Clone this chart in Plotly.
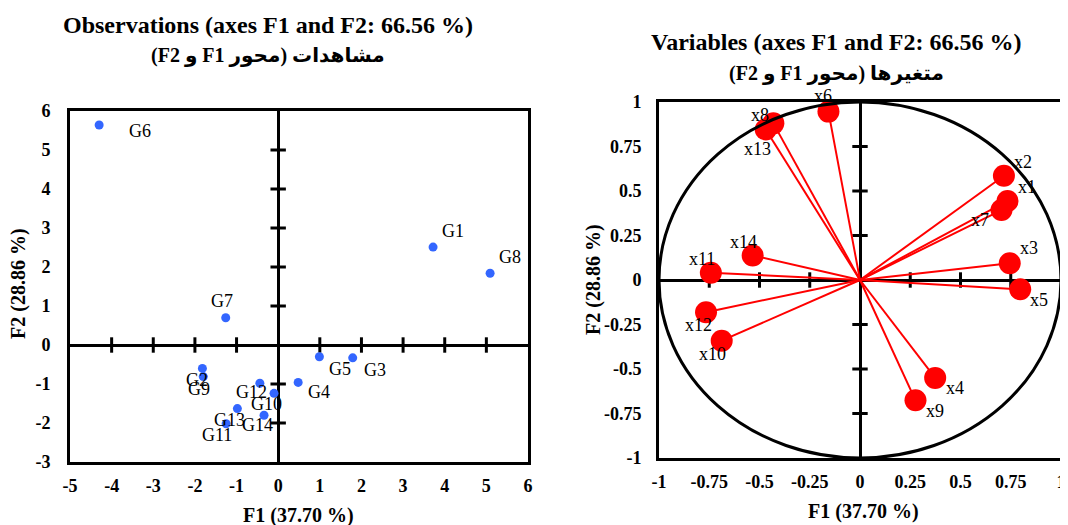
import plotly.graph_objects as go

# ---------------- data ----------------
obs_labels = ["G1", "G2", "G3", "G4", "G5", "G6", "G7", "G8", "G9", "G10", "G11", "G12", "G13", "G14"]
obs_f1 = [3.72, -1.82, 1.79, 0.48, 0.99, -4.30, -1.26, 5.09, -1.80, -0.10, -1.25, -0.44, -0.98, -0.34]
obs_f2 = [2.51, -0.60, -0.33, -0.96, -0.30, 5.64, 0.70, 1.84, -0.81, -1.24, -2.02, -0.98, -1.63, -1.80]

var_labels = ["x1", "x2", "x3", "x4", "x5", "x6", "x7", "x8", "x9", "x10", "x11", "x12", "x13", "x14"]
var_f1 = [0.734, 0.716, 0.745, 0.374, 0.797, -0.157, 0.704, -0.431, 0.276, -0.688, -0.742, -0.766, -0.469, -0.534]
var_f2 = [0.444, 0.586, 0.094, -0.550, -0.052, 0.946, 0.393, 0.880, -0.676, -0.341, 0.041, -0.181, 0.846, 0.138]

obs_xticks = [-5, -4, -3, -2, -1, 0, 1, 2, 3, 4, 5, 6]
obs_yticks = [-3, -2, -1, 0, 1, 2, 3, 4, 5, 6]
var_ticks = [-1, -0.75, -0.5, -0.25, 0, 0.25, 0.5, 0.75, 1]
var_ticktext = ["-1", "-0.75", "-0.5", "-0.25", "0", "0.25", "0.5", "0.75", "1"]

title_obs = "Observations (axes F1 and F2: 66.56 %)"
title_obs_fa = "\u202Bمشاهدات (محور F1 و F2)\u202C"
title_var = "Variables (axes F1 and F2: 66.56 %)"
title_var_fa = "\u202Bمتغیرها (محور F1 و F2)\u202C"
xlab = "F1 (37.70 %)"
ylab = "F2 (28.86 %)"

# ---------------- label offsets (px) ----------------
obs_off = {"G1": (20, 16), "G2": (-5, -12), "G3": (22, -12), "G4": (21, -10), "G5": (21, -12),
           "G6": (41, -6), "G7": (-4, 17), "G8": (20, 16), "G9": (-4, -12), "G10": (-8, -11),
           "G11": (-9, -11), "G12": (-8, -9), "G13": (-8, -11), "G14": (-7, -10)}
var_off = {"x1": (19, 14), "x2": (19, 14), "x3": (19, 15), "x4": (20, -10), "x5": (19, -11),
           "x6": (-5, 16), "x7": (-22, -10), "x8": (-13, 8), "x9": (20, -11), "x10": (-9, -13),
           "x11": (-9, 14), "x12": (-8, -13), "x13": (-8, -20), "x14": (-9, 13)}

SERIF = "Liberation Serif, Times New Roman, serif"
TITLEF = "Liberation Serif, DejaVu Sans, serif"
W, H = 1068, 525
OX, OY = 8, 8  # page body margin compensation


def fx(px):
    return (px - OX) / W


def fy(py):
    return 1 - (py - OY) / H


fig = go.Figure()

# ---- left: observations ----
ox_in = [t for t in obs_xticks if t not in (0, obs_xticks[0], obs_xticks[-1])]
oy_in = [t for t in obs_yticks if t not in (0, obs_yticks[0], obs_yticks[-1])]
fig.add_trace(go.Scatter(x=ox_in, y=[0] * len(ox_in), mode="markers", xaxis="x", yaxis="y",
                         marker=dict(symbol="line-ns", size=11, line=dict(width=3, color="black")),
                         hoverinfo="skip", showlegend=False))
fig.add_trace(go.Scatter(x=[0] * len(oy_in), y=oy_in, mode="markers", xaxis="x", yaxis="y",
                         marker=dict(symbol="line-ew", size=11, line=dict(width=3, color="black")),
                         hoverinfo="skip", showlegend=False))
fig.add_trace(go.Scatter(x=obs_f1, y=obs_f2, mode="markers", xaxis="x", yaxis="y",
                         marker=dict(size=9, color="#3366FF"), showlegend=False, text=obs_labels))

# ---- right: variables ----
lx, ly = [], []
for a, b in zip(var_f1, var_f2):
    lx += [0, a, None]
    ly += [0, b, None]
v_in = [t for t in var_ticks if t not in (0, var_ticks[0], var_ticks[-1])]
fig.add_trace(go.Scatter(x=v_in, y=[0] * len(v_in), mode="markers", xaxis="x2", yaxis="y2",
                         marker=dict(symbol="line-ns", size=11, line=dict(width=3, color="black")),
                         hoverinfo="skip", showlegend=False))
fig.add_trace(go.Scatter(x=[0] * len(v_in), y=v_in, mode="markers", xaxis="x2", yaxis="y2",
                         marker=dict(symbol="line-ew", size=11, line=dict(width=3, color="black")),
                         hoverinfo="skip", showlegend=False))
fig.add_trace(go.Scatter(x=lx, y=ly, mode="lines", xaxis="x2", yaxis="y2",
                         line=dict(color="#FF0000", width=2), hoverinfo="skip", showlegend=False))
fig.add_trace(go.Scatter(x=var_f1, y=var_f2, mode="markers", xaxis="x2", yaxis="y2",
                         marker=dict(size=22, color="#FF0000"), showlegend=False, text=var_labels))

# correlation circle
fig.add_shape(type="circle", xref="x2", yref="y2", x0=var_ticks[0], y0=var_ticks[0],
              x1=var_ticks[-1], y1=var_ticks[-1], line=dict(color="black", width=3), layer="above")

ann = []
for lab, a, b in zip(obs_labels, obs_f1, obs_f2):
    dx, dy = obs_off[lab]
    ann.append(dict(x=a, y=b, xref="x", yref="y", text=lab, showarrow=False, xshift=dx, yshift=dy,
                    xanchor="center", yanchor="middle",
                    font=dict(family=SERIF, size=18, color="black")))
for lab, a, b in zip(var_labels, var_f1, var_f2):
    dx, dy = var_off[lab]
    ann.append(dict(x=a, y=b, xref="x2", yref="y2", text=lab, showarrow=False, xshift=dx, yshift=dy,
                    xanchor="center", yanchor="middle",
                    font=dict(family=SERIF, size=18, color="black")))


def pann(px, py, text, size, angle=0, fam=SERIF):
    return dict(x=fx(px), y=fy(py), xref="paper", yref="paper", text="<b>%s</b>" % text,
                showarrow=False, xanchor="center", yanchor="middle", textangle=angle,
                font=dict(family=fam, size=size, color="black"))


ann += [
    pann(268, 25, title_obs, 24, fam=TITLEF),
    pann(268, 56, title_obs_fa, 20, fam=TITLEF),
    pann(836, 42, title_var, 24, fam=TITLEF),
    pann(836, 73, title_var_fa, 20, fam=TITLEF),
    pann(298, 515, xlab, 20),
    pann(863, 511, xlab, 20),
    pann(18, 284, ylab, 20, angle=-90),
    pann(593, 280, ylab, 20, angle=-90),
]

tickf = dict(family=SERIF, size=18, color="black")
ax_common = dict(showgrid=False, zeroline=True, zerolinecolor="black", zerolinewidth=3,
                 showline=True, linecolor="black", linewidth=3, mirror=True, ticks="",
                 tickfont=tickf, fixedrange=True)

fig.update_layout(
    width=W, height=H, margin=dict(l=0, r=0, t=0, b=0, autoexpand=False),
    paper_bgcolor="white", plot_bgcolor="white", showlegend=False,
    xaxis=dict(domain=[fx(70), fx(528)], range=[obs_xticks[0], obs_xticks[-1]], tickvals=obs_xticks,
               ticktext=["<b>%d</b>" % t for t in obs_xticks], anchor="y", ticklabelstandoff=5, **ax_common),
    yaxis=dict(domain=[fy(462), fy(111)], range=[obs_yticks[0], obs_yticks[-1]], tickvals=obs_yticks,
               ticktext=["<b>%d</b>" % t for t in obs_yticks], anchor="x", ticklabelstandoff=13, **ax_common),
    xaxis2=dict(domain=[fx(659), fx(1061)], range=[var_ticks[0], var_ticks[-1]], tickvals=var_ticks,
                ticktext=["<b>%s</b>" % t for t in var_ticktext], anchor="y2", ticklabelstandoff=5, **ax_common),
    yaxis2=dict(domain=[fy(458), fy(102)], range=[var_ticks[0], var_ticks[-1]], tickvals=var_ticks,
                ticktext=["<b>%s</b>" % t for t in var_ticktext], anchor="x2", ticklabelstandoff=11, **ax_common),
    annotations=ann,
)

fig.write_html("out.html")
